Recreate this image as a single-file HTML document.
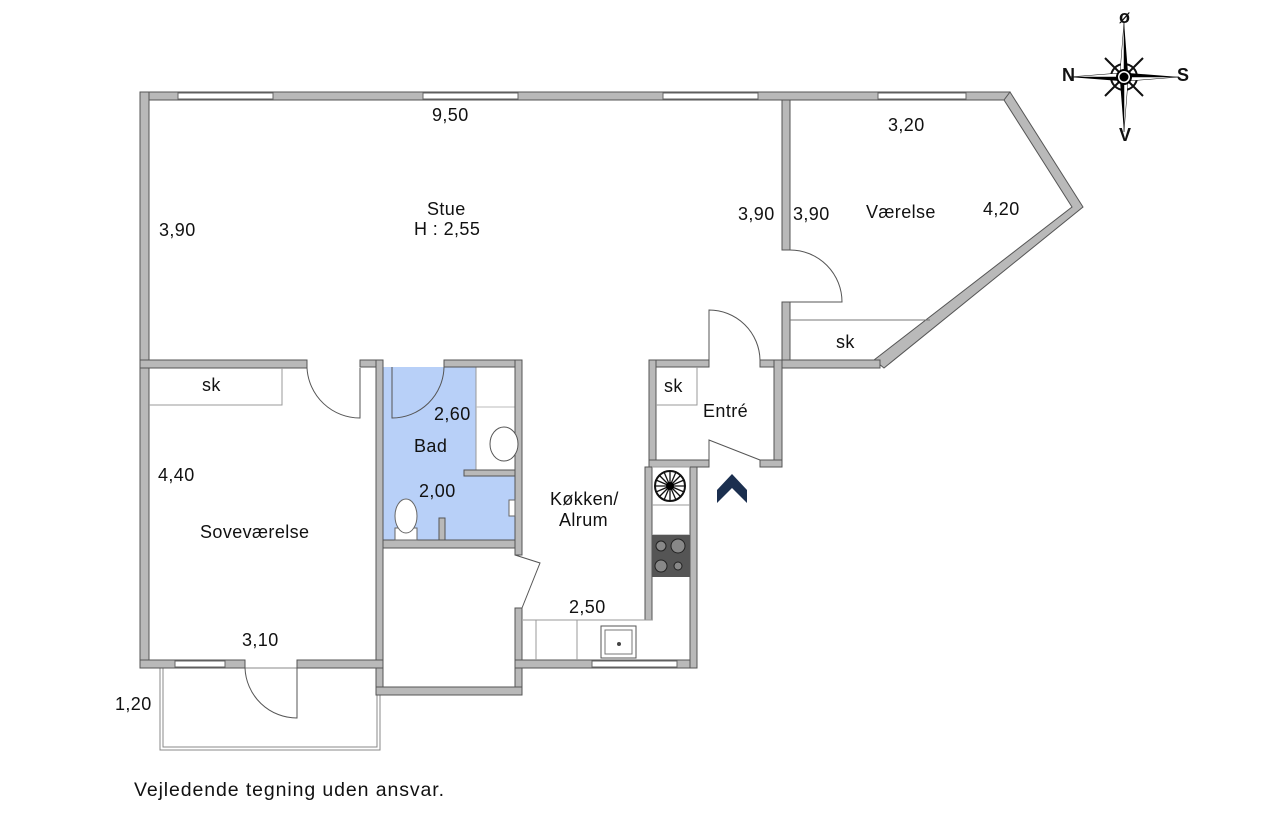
<!DOCTYPE html>
<html><head><meta charset="utf-8"><style>
html,body{margin:0;padding:0;background:#fff;}
svg{display:block;}
text{font-family:"Liberation Sans",sans-serif;font-size:18px;fill:#111;letter-spacing:0.4px;}
</style></head><body>
<svg width="1268" height="836" viewBox="0 0 1268 836" xmlns="http://www.w3.org/2000/svg">
<rect x="383" y="367" width="132" height="173" fill="#b8d0f8"/>
<rect x="476" y="367" width="39" height="103" fill="#fff" stroke="#999" stroke-width="1"/>
<line x1="476" y1="407" x2="515" y2="407" stroke="#bbb"/>
<rect x="160" y="668" width="220" height="82" fill="none" stroke="#888" stroke-width="1"/>
<rect x="163" y="668" width="214" height="79" fill="none" stroke="#888" stroke-width="1"/>
<g fill="#b9b9b9" stroke="#555" stroke-width="1">
<rect x="140" y="92" width="870" height="8"/>
<rect x="140" y="92" width="9" height="576"/>
<rect x="782" y="100" width="8" height="150"/>
<rect x="782" y="302" width="8" height="66"/>
<polygon points="1010,92 1083,207 884,368 874,360 1072,207 1004,100"/>
<rect x="782" y="360" width="98" height="8"/>
<rect x="140" y="360" width="167" height="8"/>
<rect x="360" y="360" width="23" height="7"/>
<rect x="376" y="360" width="7" height="335"/>
<rect x="444" y="360" width="78" height="7"/>
<rect x="515" y="360" width="7" height="195"/>
<rect x="515" y="608" width="7" height="87"/>
<rect x="383" y="540" width="132" height="8"/>
<rect x="464" y="470" width="51" height="6"/>
<rect x="439" y="518" width="6" height="22"/>
<rect x="376" y="687" width="146" height="8"/>
<rect x="140" y="660" width="105" height="8"/>
<rect x="297" y="660" width="86" height="8"/>
<rect x="515" y="660" width="182" height="8"/>
<rect x="690" y="460" width="7" height="208"/>
<rect x="649" y="360" width="60" height="7"/>
<rect x="760" y="360" width="22" height="7"/>
<rect x="649" y="360" width="7" height="107"/>
<rect x="774" y="360" width="8" height="107"/>
<rect x="649" y="460" width="60" height="7"/>
<rect x="760" y="460" width="22" height="7"/>
<rect x="645" y="467" width="7" height="153"/>
</g>
<g fill="#fff" stroke="#666" stroke-width="1">
<rect x="178" y="93" width="95" height="6"/>
<rect x="423" y="93" width="95" height="6"/>
<rect x="663" y="93" width="95" height="6"/>
<rect x="878" y="93" width="88" height="6"/>
<rect x="175" y="661" width="50" height="6"/>
<rect x="592" y="661" width="85" height="6"/>
</g>
<g fill="none" stroke="#555" stroke-width="1">
<path d="M790 250 A52 52 0 0 1 842 302 L790 302"/>
<path d="M709 360 L709 310 A51 51 0 0 1 760 360"/>
<path d="M307 368 A53 53 0 0 0 360 418 L360 368"/>
<path d="M392 367 L392 418 A52 52 0 0 0 444 367"/>
<path d="M709 460 L709 440 L760 460"/>
<path d="M515 555 L540 563 L522 608"/>
<path d="M245 668 A52 52 0 0 0 297 718 L297 668"/>
<path d="M149 405 L282 405 L282 368" stroke="#999"/>
<path d="M790 320 L930 320" stroke="#777"/>
<path d="M656 405 L697 405 L697 367" stroke="#999"/>
<path d="M652 620 L523 620 M536 620 L536 660 M577 620 L577 660 M652 467 L690 467 M652 505 L690 505 M652 535 L690 535" stroke="#999"/>
</g>
<rect x="652" y="535" width="38" height="42" fill="#555"/>
<g fill="#888" stroke="#222"><circle cx="661" cy="546" r="5"/><circle cx="678" cy="546" r="7"/><circle cx="661" cy="566" r="6"/><circle cx="678" cy="566" r="4"/></g>
<circle cx="670" cy="486" r="15" fill="#fff" stroke="#111" stroke-width="2"/>
<g stroke="#111" stroke-width="1.3">
<line x1="655" y1="486" x2="685" y2="486"/><line x1="670" y1="471" x2="670" y2="501"/><line x1="659" y1="475" x2="681" y2="497"/><line x1="681" y1="475" x2="659" y2="497"/>
<line x1="656" y1="480" x2="684" y2="492"/><line x1="664" y1="472" x2="676" y2="500"/><line x1="676" y1="472" x2="664" y2="500"/><line x1="684" y1="480" x2="656" y2="492"/></g>
<circle cx="670" cy="486" r="4" fill="#000"/>
<rect x="601" y="626" width="35" height="32" fill="#fff" stroke="#555"/>
<rect x="605" y="630" width="27" height="24" fill="#fff" stroke="#777"/>
<circle cx="619" cy="644" r="2" fill="#444"/>
<ellipse cx="504" cy="444" rx="14" ry="17" fill="#fff" stroke="#555"/>
<rect x="395" y="528" width="22" height="12" fill="#fff" stroke="#666"/>
<ellipse cx="406" cy="516" rx="11" ry="17" fill="#fff" stroke="#666"/>
<rect x="509" y="500" width="6" height="16" fill="#fff" stroke="#666"/>
<polygon points="732,474 747,490 747,503 732,488 717,503 717,490" fill="#1b2f4f"/>
<g transform="translate(1124,77)">
<g stroke="#111" stroke-width="2"><line x1="-19" y1="-19" x2="19" y2="19"/><line x1="19" y1="-19" x2="-19" y2="19"/></g>
<circle r="13" fill="none" stroke="#111" stroke-width="2"/>
<polygon points="0,-55 4,-4 0,0" fill="#000"/><polygon points="0,-55 -4,-4 0,0" fill="#fff" stroke="#000" stroke-width=".5"/>
<polygon points="0,55 -4,4 0,0" fill="#000"/><polygon points="0,55 4,4 0,0" fill="#fff" stroke="#000" stroke-width=".5"/>
<polygon points="-55,0 -4,4 0,0" fill="#000"/><polygon points="-55,0 -4,-4 0,0" fill="#fff" stroke="#000" stroke-width=".5"/>
<polygon points="55,0 4,-4 0,0" fill="#000"/><polygon points="55,0 4,4 0,0" fill="#fff" stroke="#000" stroke-width=".5"/>
<circle r="7" fill="#fff" stroke="#000" stroke-width="2"/><circle r="4.5" fill="#000"/>
</g>
<g style="font-size:10px;font-weight:bold;letter-spacing:0"><text x="1119" y="23">ø</text><text x="1062" y="81">N</text><text x="1177" y="81">S</text><text x="1119" y="141">V</text></g>
<text x="432" y="121">9,50</text>
<text x="427" y="215">Stue</text>
<text x="414" y="235">H : 2,55</text>
<text x="159" y="236">3,90</text>
<text x="738" y="220">3,90</text>
<text x="793" y="220">3,90</text>
<text x="866" y="218">Værelse</text>
<text x="983" y="215">4,20</text>
<text x="888" y="131">3,20</text>
<text x="836" y="348">sk</text>
<text x="202" y="391">sk</text>
<text x="664" y="392">sk</text>
<text x="703" y="417">Entré</text>
<text x="434" y="420">2,60</text>
<text x="414" y="452">Bad</text>
<text x="419" y="497">2,00</text>
<text x="158" y="481">4,40</text>
<text x="200" y="538">Soveværelse</text>
<text x="550" y="505">Køkken/</text>
<text x="559" y="526">Alrum</text>
<text x="569" y="613">2,50</text>
<text x="242" y="646">3,10</text>
<text x="115" y="710">1,20</text>
<text x="134" y="796" style="font-size:19.5px;letter-spacing:0.9px">Vejledende tegning uden ansvar.</text>
</svg>
</body></html>
